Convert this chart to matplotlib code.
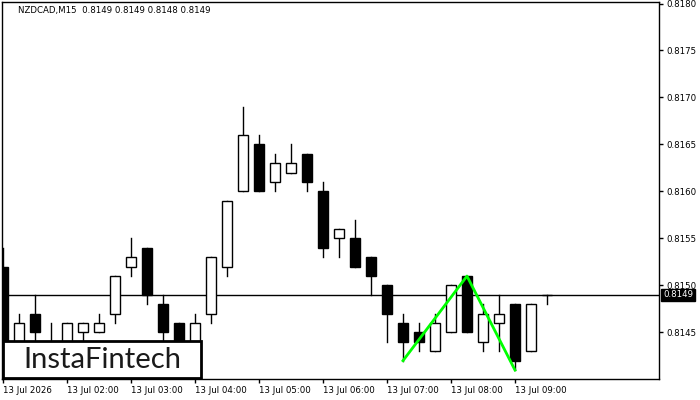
import matplotlib
matplotlib.use("Agg")
import matplotlib.pyplot as plt
from matplotlib.patches import Rectangle

# datos de las velas M15 (apertura, maximo, minimo, cierre)
opens = [0.8152, 0.8143, 0.8147, 0.8144, 0.8143, 0.8145, 0.8145, 0.8147, 0.8152, 0.8154,
         0.8148, 0.8146, 0.8143, 0.8147, 0.8152, 0.8160, 0.8165, 0.8161, 0.8162, 0.8164,
         0.8160, 0.8155, 0.8155, 0.8153, 0.8150, 0.8146, 0.8145, 0.8143, 0.8145, 0.8151,
         0.8144, 0.8146, 0.8148, 0.8143, 0.8149]
highs = [0.8154, 0.8147, 0.8149, 0.8146, 0.8146, 0.8146, 0.8147, 0.8151, 0.8155, 0.8154,
         0.8149, 0.8146, 0.8147, 0.8153, 0.8159, 0.8169, 0.8166, 0.8164, 0.8165, 0.8164,
         0.8161, 0.8156, 0.8157, 0.8153, 0.8150, 0.8147, 0.8146, 0.8147, 0.8150, 0.8151,
         0.8148, 0.8149, 0.8148, 0.8148, 0.8149]
lows = [0.8141, 0.8142, 0.8143, 0.8142, 0.8142, 0.8144, 0.8145, 0.8146, 0.8151, 0.8148,
        0.8144, 0.8142, 0.8142, 0.8146, 0.8151, 0.8160, 0.8160, 0.8160, 0.8162, 0.8160,
        0.8153, 0.8153, 0.8152, 0.8149, 0.8144, 0.8142, 0.8143, 0.8143, 0.8145, 0.8145,
        0.8143, 0.8143, 0.8141, 0.8143, 0.8148]
closes = [0.8143, 0.8146, 0.8145, 0.8143, 0.8146, 0.8146, 0.8146, 0.8151, 0.8153, 0.8149,
          0.8145, 0.8143, 0.8146, 0.8153, 0.8159, 0.8166, 0.8160, 0.8163, 0.8163, 0.8161,
          0.8154, 0.8156, 0.8152, 0.8151, 0.8147, 0.8144, 0.8144, 0.8146, 0.8150, 0.8145,
          0.8147, 0.8147, 0.8142, 0.8148, 0.8149]

time_ticks = [0, 4, 8, 12, 16, 20, 24, 28, 32]
time_labels = ["13 Jul 2026", "13 Jul 02:00", "13 Jul 03:00", "13 Jul 04:00", "13 Jul 05:00",
               "13 Jul 06:00", "13 Jul 07:00", "13 Jul 08:00", "13 Jul 09:00"]
price_ticks = [0.8145, 0.8150, 0.8155, 0.8160, 0.8165, 0.8170, 0.8175, 0.8180]
last_price = 0.8149

# patron doble techo (velas y precios)
pattern_idx = [25, 29, 32]
pattern_price = [0.8142, 0.8151, 0.8141]

plt.rcParams['font.family'] = ['DejaVu Sans']

fig = plt.figure(figsize=(7, 4), dpi=100)
ax = fig.add_axes([2/700, 21/400, 657/700, 377/400])

n = len(opens)
for i in range(n):
    o, h, l, c = opens[i], highs[i], lows[i], closes[i]
    ax.plot([i, i], [l, h], color="black", lw=1, zorder=2)
    if c >= o:
        fc = "white"
    else:
        fc = "black"
    ax.bar(i, abs(c - o), bottom=min(o, c), width=0.64, color=fc, edgecolor="black",
           linewidth=1, zorder=3)

ax.axhline(last_price, color="black", lw=1, zorder=1)
ax.plot(pattern_idx, pattern_price, color="#00ff00", lw=2, zorder=4)

ax.set_xlim(-0.06, 41)
ax.set_ylim(0.814005, 0.818016)

ax.yaxis.tick_right()
ax.set_yticks(price_ticks)
ax.set_yticklabels(["%.4f" % p for p in price_ticks], fontsize=6.2)
ax.set_xticks(time_ticks)
ax.set_xticklabels(time_labels, fontsize=6.2, ha="left")
ax.tick_params(axis="both", length=3, width=1, pad=2, color="black")
for s in ax.spines.values():
    s.set_linewidth(1)

# etiqueta del precio actual
ax.text(1.006, last_price, "%.4f" % last_price, transform=ax.get_yaxis_transform(),
        color="white", fontsize=6.2, va="center", ha="left",
        bbox=dict(boxstyle="square,pad=0.2", fc="black", ec="black"))

fig.text(18/700, 1 - 11/400, "NZDCAD,M15  0.8149 0.8149 0.8148 0.8149", fontsize=6.2,
         va="center", ha="left")

# logo
fig.patches.append(Rectangle((3/700, 22/400), 198/700, 37/400, transform=fig.transFigure,
                             fc="white", ec="black", lw=2, zorder=10))
fig.text(102/700, 40/400, "InstaFintech", fontsize=21, color="#1a1a1a", ha="center",
         va="center", family=["Lato", "DejaVu Sans"], zorder=11)

fig.savefig("out.png", dpi=100)
